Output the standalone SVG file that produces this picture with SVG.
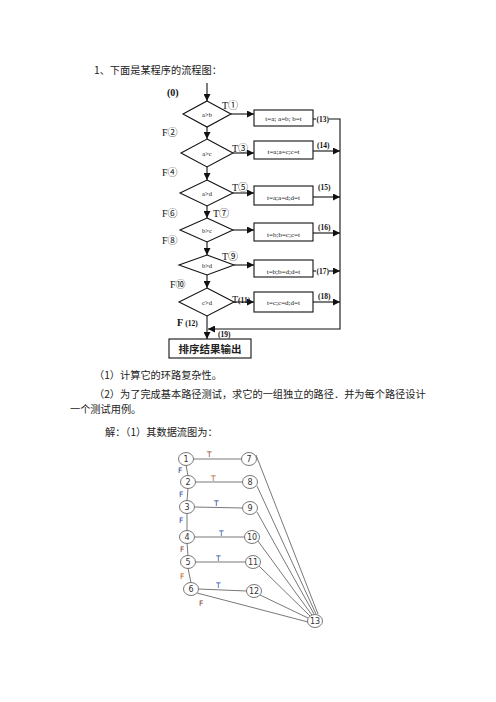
<svg xmlns="http://www.w3.org/2000/svg" width="496" height="702" viewBox="0 0 496 702">
<defs>
<marker id="ah" viewBox="0 0 10 10" refX="10" refY="5" markerWidth="7" markerHeight="7" markerUnits="userSpaceOnUse" orient="auto"><path d="M0,0 L10,5 L0,10 z" fill="#111"/></marker>
<style>
.cn{font-family:"Noto Sans CJK SC",sans-serif;font-size:10.2px;fill:#222}
.fc{stroke:#111;stroke-width:1.1;fill:none}
.fl{stroke:#111;stroke-width:1.1;fill:none}
.lb{font-family:"Liberation Serif","Noto Sans CJK SC",serif;font-size:10px;fill:#111}
.sm{font-family:"Liberation Serif",serif;font-size:7.5px;fill:#111;font-weight:bold}
.bt{font-family:"Liberation Serif",serif;font-size:7px;fill:#111;text-anchor:middle}
.dt{font-family:"Liberation Serif",serif;font-size:6.5px;fill:#111;text-anchor:middle}
.gl{stroke:#555;stroke-width:0.8;fill:none}
.nd ellipse{fill:#fff;stroke:#555;stroke-width:0.8}
.nd text{font-family:"DejaVu Sans",sans-serif;font-size:8px;fill:#333;text-anchor:middle}
.gT{font-family:"DejaVu Sans",sans-serif;font-size:7.5px}
</style>
</defs>
<rect width="496" height="702" fill="#fff"/>

<text class="cn" x="94" y="73.5">1、下面是某程序的流程图：</text>
<text class="cn" x="94" y="378.5">（1）计算它的环路复杂性。</text>
<text class="cn" x="94" y="397.5">（2）为了完成基本路径测试，求它的一组独立的路径．并为每个路径设计</text>
<text class="cn" x="70" y="413">一个测试用例。</text>
<text class="cn" x="105" y="435.5">解：（1）其数据流图为：</text>

<g id="flowchart">
<text class="lb" x="167" y="96" font-weight="bold">(0)</text>
<g id="d1"><polygon class="fc" points="207,101 231,114 207,127 183,114"/><text class="dt" x="207" y="116.5">a&gt;b</text></g>
<g id="d2"><polygon class="fc" points="207,139 233,153 207,167 181,153"/><text class="dt" x="207" y="155.5">a&gt;c</text></g>
<g id="d3"><polygon class="fc" points="207,180 233,193 207,206 180,193"/><text class="dt" x="207" y="195.5">a&gt;d</text></g>
<g id="d4"><polygon class="fc" points="207,218 233,230 207,242 180,230"/><text class="dt" x="207" y="232.5">b&gt;c</text></g>
<g id="d5"><polygon class="fc" points="207,255 234,265 207,275 179,265"/><text class="dt" x="207" y="267.5">b&gt;d</text></g>
<g id="d6"><polygon class="fc" points="207,288 234,302 207,316 179,302"/><text class="dt" x="207" y="304.5">c&gt;d</text></g>

<g id="b1"><rect class="fc" x="254" y="110" width="59" height="16"/><text class="bt" x="283.5" y="120.5">t=a; a=b; b=t</text></g>
<g id="b2"><rect class="fc" x="254" y="141" width="59" height="18"/><text class="bt" x="283.5" y="154">t=a;a=c;c=t</text></g>
<g id="b3"><rect class="fc" x="254" y="186" width="59" height="19"/><text class="bt" x="283.5" y="200">t=a;a=d;d=t</text></g>
<g id="b4"><rect class="fc" x="254" y="223" width="59" height="18"/><text class="bt" x="283.5" y="237">t=b;b=c;c=t</text></g>
<g id="b5"><rect class="fc" x="254" y="260" width="59" height="17"/><text class="bt" x="283.5" y="273.5">t=b;b=d;d=t</text></g>
<g id="b6"><rect class="fc" x="254" y="292" width="59" height="20"/><text class="bt" x="283.5" y="305">t=c;c=d;d=t</text></g>

<g id="out"><rect class="fc" x="169" y="339" width="82" height="19"/><text class="cn" x="210" y="352.5" text-anchor="middle" style="font-size:10.5px;font-weight:bold">排序结果输出</text></g>

<g id="fc-connectors">
<line class="fl" x1="207" y1="83" x2="207" y2="101" marker-end="url(#ah)"/>
<line class="fl" x1="207" y1="127" x2="207" y2="139" marker-end="url(#ah)"/>
<line class="fl" x1="207" y1="167" x2="207" y2="180" marker-end="url(#ah)"/>
<line class="fl" x1="207" y1="206" x2="207" y2="218" marker-end="url(#ah)"/>
<line class="fl" x1="207" y1="242" x2="207" y2="255" marker-end="url(#ah)"/>
<line class="fl" x1="207" y1="275" x2="207" y2="288" marker-end="url(#ah)"/>
<line class="fl" x1="207" y1="316" x2="207" y2="339" marker-end="url(#ah)"/>

<line class="fl" x1="231" y1="114" x2="254" y2="114" marker-end="url(#ah)"/>
<line class="fl" x1="233" y1="153" x2="254" y2="153" marker-end="url(#ah)"/>
<line class="fl" x1="233" y1="193" x2="254" y2="193" marker-end="url(#ah)"/>
<line class="fl" x1="233" y1="230" x2="254" y2="230" marker-end="url(#ah)"/>
<line class="fl" x1="234" y1="265" x2="254" y2="265" marker-end="url(#ah)"/>
<line class="fl" x1="234" y1="302" x2="254" y2="302" marker-end="url(#ah)"/>

<polyline class="fl" points="313,119 316,119"/>
<polyline class="fl" points="329,119 340,119 340,329 208,329" marker-end="url(#ah)"/>
<line class="fl" x1="313" y1="151" x2="340" y2="151" marker-end="url(#ah)"/>
<line class="fl" x1="313" y1="197" x2="340" y2="197" marker-end="url(#ah)"/>
<line class="fl" x1="313" y1="233" x2="340" y2="233" marker-end="url(#ah)"/>
<line class="fl" x1="313" y1="271" x2="316" y2="271"/>
<line class="fl" x1="329" y1="271" x2="340" y2="271" marker-end="url(#ah)"/>
<line class="fl" x1="313" y1="302" x2="340" y2="302" marker-end="url(#ah)"/>
</g>

<g id="fc-labels">
<text class="lb" x="222" y="109">T①</text>
<text class="lb" x="162" y="136">F②</text>
<text class="lb" x="232" y="152">T③</text>
<text class="lb" x="162" y="176">F④</text>
<text class="lb" x="232" y="191">T⑤</text>
<text class="lb" x="162" y="217">F⑥</text>
<text class="lb" x="213" y="217">T⑦</text>
<text class="lb" x="162" y="244">F⑧</text>
<text class="lb" x="222" y="260">T⑨</text>
<text class="lb" x="170" y="288">F⑩</text>
<text class="lb" x="232" y="303">T<tspan style="font-size:7.5px;font-weight:bold">(11)</tspan></text>
<text class="lb" x="177" y="326" font-weight="bold">F <tspan style="font-size:7.5px">(12)</tspan></text>
<text class="sm" x="316.5" y="121.5">(13)</text>
<text class="sm" x="317" y="148">(14)</text>
<text class="sm" x="318" y="190">(15)</text>
<text class="sm" x="318" y="230">(16)</text>
<text class="sm" x="316.5" y="273.5">(17)</text>
<text class="sm" x="318" y="299">(18)</text>
<text class="sm" x="218" y="337">(19)</text>
</g>
</g>

<g id="graph-edges">
<line class="gl" x1="186" y1="465" x2="188" y2="476"/>
<line class="gl" x1="188" y1="488" x2="187" y2="501"/>
<line class="gl" x1="187" y1="513" x2="187" y2="531"/>
<line class="gl" x1="187" y1="543" x2="188" y2="556"/>
<line class="gl" x1="188" y1="568" x2="191" y2="583"/>
<line class="gl" x1="193.5" y1="459" x2="241.5" y2="459"/>
<line class="gl" x1="195.5" y1="482" x2="242.5" y2="482"/>
<line class="gl" x1="194.5" y1="507" x2="242.5" y2="508"/>
<line class="gl" x1="194.5" y1="537" x2="244.5" y2="537"/>
<line class="gl" x1="195.5" y1="562" x2="245.5" y2="562"/>
<line class="gl" x1="198.5" y1="589" x2="246.5" y2="591"/>
<line class="gl" x1="256" y1="455" x2="318" y2="614"/>
<line class="gl" x1="257" y1="486" x2="316" y2="614"/>
<line class="gl" x1="257" y1="512" x2="314" y2="614"/>
<line class="gl" x1="258" y1="541" x2="312" y2="615"/>
<line class="gl" x1="259" y1="566" x2="310" y2="616"/>
<line class="gl" x1="260" y1="595" x2="308" y2="618"/>
<line class="gl" x1="197" y1="593" x2="308" y2="622"/>
</g>
<g id="graph-labels" class="gT">
<text x="207" y="457" fill="#8a4a1a">T</text>
<text x="211" y="481" fill="#b0601a">T</text>
<text x="214" y="506" fill="#2a3f8a">T</text>
<text x="219" y="536" fill="#2a4fa8">T</text>
<text x="216" y="561" fill="#2a4fa8">T</text>
<text x="216" y="588" fill="#2a4fa8">T</text>
<text x="178" y="473" fill="#2a3f8a">F</text>
<text x="179" y="497" fill="#2a4fa8">F</text>
<text x="179" y="523" fill="#2a4fa8">F</text>
<text x="180" y="552" fill="#8a3a2a">F</text>
<text x="180" y="579" fill="#b0601a">F</text>
<text x="199" y="606" fill="#8a3a2a">F</text>
</g>
<g id="n1" class="nd"><ellipse cx="186" cy="459" rx="7.5" ry="6.5"/><text x="186" y="462">1</text></g>
<g id="n2" class="nd"><ellipse cx="188" cy="482" rx="7.5" ry="6.5"/><text x="188" y="485">2</text></g>
<g id="n3" class="nd"><ellipse cx="187" cy="507" rx="7.5" ry="6.5"/><text x="187" y="510">3</text></g>
<g id="n4" class="nd"><ellipse cx="187" cy="537" rx="7.5" ry="6.5"/><text x="187" y="540">4</text></g>
<g id="n5" class="nd"><ellipse cx="188" cy="562" rx="7.5" ry="6.5"/><text x="188" y="565">5</text></g>
<g id="n6" class="nd"><ellipse cx="191" cy="589" rx="7.5" ry="6.5"/><text x="191" y="592">6</text></g>
<g id="n7" class="nd"><ellipse cx="249" cy="459" rx="7.5" ry="6.5"/><text x="249" y="462">7</text></g>
<g id="n8" class="nd"><ellipse cx="250" cy="482" rx="7.5" ry="6.5"/><text x="250" y="485">8</text></g>
<g id="n9" class="nd"><ellipse cx="250" cy="508" rx="7.5" ry="6.5"/><text x="250" y="511">9</text></g>
<g id="n10" class="nd"><ellipse cx="252" cy="537" rx="7.5" ry="6.5"/><text x="252" y="540">10</text></g>
<g id="n11" class="nd"><ellipse cx="253" cy="562" rx="7.5" ry="6.5"/><text x="253" y="565">11</text></g>
<g id="n12" class="nd"><ellipse cx="254" cy="591" rx="7.5" ry="6.5"/><text x="254" y="594">12</text></g>
<g id="n13" class="nd"><ellipse cx="315" cy="621" rx="7.5" ry="6.5"/><text x="315" y="624">13</text></g>
</svg>
